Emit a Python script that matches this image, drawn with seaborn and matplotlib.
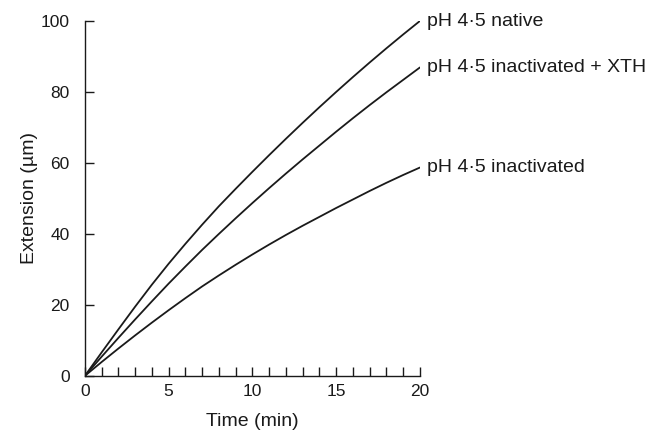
import numpy as np
import pandas as pd
import matplotlib
matplotlib.use("Agg")
import matplotlib.pyplot as plt
from matplotlib.ticker import MultipleLocator
import seaborn as sns

# valores (extensão em µm a cada minuto)
tempo = list(range(0, 21))
nativo = [0, 6.6, 13.1, 19.5, 25.7, 31.6, 37.2, 42.6, 47.8, 52.7, 57.5,
          62.2, 66.8, 71.3, 75.7, 80.0, 84.2, 88.3, 92.3, 96.2, 100.0]
inativado_xth = [0, 5.4, 10.7, 15.9, 21.0, 26.0, 30.8, 35.5, 40.0, 44.4, 48.7,
                 52.9, 57.0, 61.0, 64.9, 68.8, 72.6, 76.3, 79.9, 83.4, 86.9]
inativado = [0, 3.9, 7.7, 11.4, 15.0, 18.5, 21.9, 25.2, 28.3, 31.3, 34.2,
             37.0, 39.7, 42.3, 44.8, 47.3, 49.7, 52.1, 54.4, 56.6, 58.7]
rotulos = ["pH 4·5 native", "pH 4·5 inactivated + XTH", "pH 4·5 inactivated"]

df = pd.DataFrame({
    "Tempo": tempo * 3,
    "Extensao": nativo + inativado_xth + inativado,
    "Serie": [rotulos[0]] * 21 + [rotulos[1]] * 21 + [rotulos[2]] * 21,
})

sns.set_style("ticks")
plt.rcParams["font.family"] = ["Liberation Sans", "DejaVu Sans"]

fig = plt.figure(figsize=(6.53, 4.33), dpi=100)
ax = fig.add_axes([0.130, 0.132, 0.513, 0.8195])

sns.lineplot(data=df, x="Tempo", y="Extensao", hue="Serie",
             palette=["#1a1a1a"] * 3, linewidth=1.3, legend=False, ax=ax)

# rótulos no fim de cada curva
for serie in rotulos:
    ultimo = df[df["Serie"] == serie].iloc[-1]
    ax.annotate(serie, (ultimo["Tempo"], ultimo["Extensao"]),
                xytext=(5, 0), textcoords="offset points",
                va="center", ha="left", fontsize=14, color="#1a1a1a",
                annotation_clip=False)

ax.set_xlim(0, 20)
ax.set_ylim(0, 100)
ax.xaxis.set_major_locator(MultipleLocator(5))
ax.xaxis.set_minor_locator(MultipleLocator(1))
ax.yaxis.set_major_locator(MultipleLocator(20))
ax.tick_params(axis="both", which="both", direction="in", length=6.5,
               width=1, color="#1a1a1a", labelsize=12.5, labelcolor="#1a1a1a")
ax.tick_params(axis="x", pad=6)
ax.tick_params(axis="y", pad=11)
ax.tick_params(axis="y", which="minor", left=False)

for lado in ["top", "right"]:
    ax.spines[lado].set_visible(False)
for lado in ["left", "bottom"]:
    ax.spines[lado].set_linewidth(1)
    ax.spines[lado].set_color("#1a1a1a")

ax.set_xlabel("Time (min)", fontsize=14, color="#1a1a1a", labelpad=10)
ax.set_ylabel("Extension (µm)", fontsize=14, color="#1a1a1a", labelpad=2)

fig.savefig("out.png", dpi=100)
